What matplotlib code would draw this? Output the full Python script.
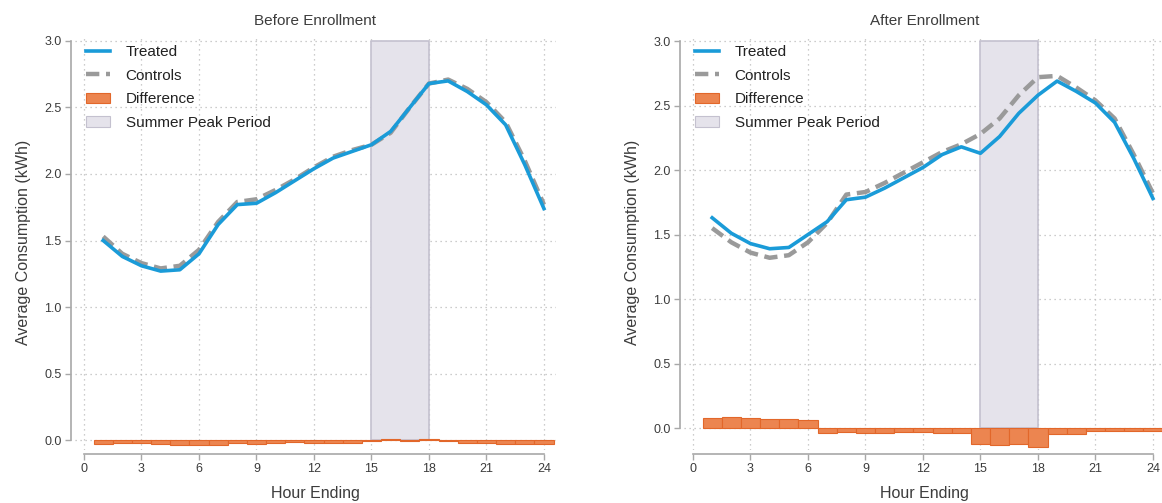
import numpy as np
import matplotlib.pyplot as plt
from matplotlib.lines import Line2D
from matplotlib.patches import Patch

hours = np.arange(1, 25)

# before enrollment
treated_pre = [1.50, 1.38, 1.31, 1.27, 1.28, 1.40, 1.62, 1.77, 1.78, 1.86, 1.95, 2.04,
               2.12, 2.17, 2.22, 2.32, 2.50, 2.68, 2.70, 2.62, 2.52, 2.37, 2.07, 1.74]
controls_pre = [1.53, 1.40, 1.33, 1.29, 1.31, 1.43, 1.64, 1.79, 1.81, 1.88, 1.96, 2.05,
                2.13, 2.18, 2.22, 2.31, 2.50, 2.68, 2.71, 2.64, 2.54, 2.39, 2.10, 1.77]
diff_pre = [-0.030, -0.025, -0.025, -0.033, -0.040, -0.035, -0.040, -0.025, -0.030, -0.020,
            -0.015, -0.020, -0.025, -0.020, -0.010, 0.005, -0.005, 0.005, -0.010, -0.020,
            -0.020, -0.030, -0.030, -0.030]

# after enrollment
treated_post = [1.63, 1.51, 1.43, 1.39, 1.40, 1.50, 1.60, 1.77, 1.79, 1.86, 1.94, 2.02,
                2.12, 2.18, 2.13, 2.26, 2.44, 2.58, 2.69, 2.61, 2.52, 2.37, 2.09, 1.78]
controls_post = [1.55, 1.44, 1.36, 1.32, 1.34, 1.44, 1.59, 1.81, 1.83, 1.90, 1.98, 2.06,
                 2.14, 2.20, 2.28, 2.40, 2.58, 2.72, 2.73, 2.64, 2.54, 2.40, 2.12, 1.82]
diff_post = [0.078, 0.085, 0.078, 0.070, 0.070, 0.065, -0.040, -0.030, -0.040, -0.040,
             -0.030, -0.030, -0.035, -0.040, -0.125, -0.130, -0.125, -0.145, -0.045, -0.045,
             -0.025, -0.025, -0.025, -0.020]

peak_start, peak_end = 15, 18
y_max = 3.0

BLUE = "#1a9bd8"
GREY = "#9a9a9a"
ORANGE = "#ec8550"
ORANGE_EDGE = "#e2672a"
PEAK = "#e5e3eb"
PEAK_EDGE = "#c4c1cf"
AXIS = "#a8a8a8"
TEXT = "#3c3c3c"
DASH = (0, (3.0, 1.5))

plt.rcParams["font.family"] = ["Liberation Sans", "DejaVu Sans"]

fig = plt.figure(figsize=(11.62, 5.03), dpi=100)
W, H = 1162, 503


def panel(rect_px, ylim, title, treated, controls, diff):
    x0, y0, x1, y1 = rect_px
    ax = fig.add_axes([x0 / W, 1 - y1 / H, (x1 - x0) / W, (y1 - y0) / H])
    ax.set_xlim(-0.47, 24.63)
    ax.set_ylim(*ylim)

    # shaded peak window runs from zero up to the top tick
    ax.fill_between([peak_start, peak_end], 0, y_max, facecolor=PEAK,
                    edgecolor=PEAK_EDGE, lw=1.2, zorder=1)
    ax.bar(hours, diff, width=1.0, color=ORANGE, edgecolor=ORANGE_EDGE, lw=0.8, zorder=2)
    ax.plot(hours, controls, color=GREY, lw=3.2, ls=DASH, zorder=3)
    ax.plot(hours, treated, color=BLUE, lw=2.6, zorder=4)

    ax.set_xticks(np.arange(0, 25, 3))
    ax.set_yticks(np.arange(0, 3.01, 0.5))
    ax.set_yticklabels([f"{v:.1f}" for v in np.arange(0, 3.01, 0.5)])
    ax.grid(True, ls=(0, (1, 3)), color="#bcbcbc", lw=0.9, zorder=0)
    ax.set_axisbelow(True)

    for s in ("top", "right"):
        ax.spines[s].set_visible(False)
    ax.spines["left"].set_position(("outward", 3))
    ax.spines["bottom"].set_position(("outward", 3))
    ax.spines["left"].set_bounds(0, 3)
    ax.spines["bottom"].set_bounds(0, 24)
    for s in ("left", "bottom"):
        ax.spines[s].set_color(AXIS)
        ax.spines[s].set_linewidth(1.2)
    ax.tick_params(colors=AXIS, labelcolor=TEXT, labelsize=9, length=4, width=1.0, pad=2.5)

    ax.set_title(title, fontsize=11, color=TEXT, pad=7)
    ax.set_xlabel("Hour Ending", fontsize=11.5, color=TEXT, labelpad=8)
    ax.set_ylabel("Average Consumption (kWh)", fontsize=11.5, color=TEXT, labelpad=10)

    handles = [
        Line2D([], [], color=BLUE, lw=2.6),
        Line2D([], [], color=GREY, lw=3.2, ls=DASH),
        Patch(facecolor=ORANGE, edgecolor=ORANGE_EDGE, lw=0.8),
        Patch(facecolor=PEAK, edgecolor=PEAK_EDGE, lw=0.8),
    ]
    ax.legend(handles, ["Treated", "Controls", "Difference", "Summer Peak Period"],
              loc="upper left", frameon=False, fontsize=11, labelcolor="#222222",
              handlelength=1.6, handletextpad=1.0, labelspacing=0.62,
              borderaxespad=0.0, bbox_to_anchor=(0.01, 0.99))
    return ax


panel((75, 35, 556, 450), (-0.075, 3.045), "Before Enrollment",
      treated_pre, controls_pre, diff_pre)
panel((684, 35, 1165, 450), (-0.17, 3.047), "After Enrollment",
      treated_post, controls_post, diff_post)

fig.savefig("out.png", dpi=100)
